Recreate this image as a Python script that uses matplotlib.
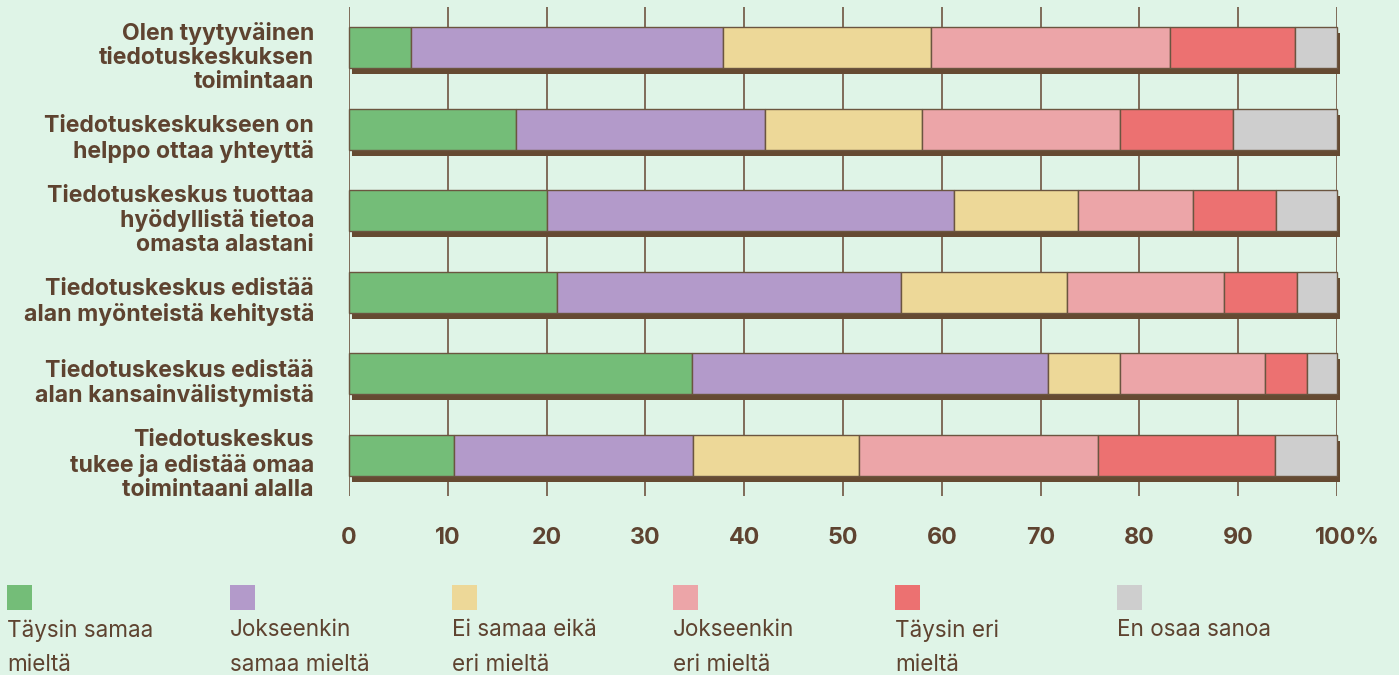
import matplotlib
matplotlib.use("Agg")
import matplotlib.pyplot as plt
import matplotlib.transforms as mtransforms
from matplotlib.patches import Rectangle
import numpy as np

# ---------------- data ----------------
statements = [
    "Olen tyytyväinen\ntiedotuskeskuksen\ntoimintaan",
    "Tiedotuskeskukseen on\nhelppo ottaa yhteyttä",
    "Tiedotuskeskus tuottaa\nhyödyllistä tietoa\nomasta alastani",
    "Tiedotuskeskus edistää\nalan myönteistä kehitystä",
    "Tiedotuskeskus edistää\nalan kansainvälistymistä",
    "Tiedotuskeskus\ntukee ja edistää omaa\ntoimintaani alalla",
]
series_names = [
    "Täysin samaa\nmieltä",
    "Jokseenkin\nsamaa mieltä",
    "Ei samaa eikä\neri mieltä",
    "Jokseenkin\neri mieltä",
    "Täysin eri\nmieltä",
    "En osaa sanoa",
]
taysin_samaa = [6.3, 16.9, 20.0, 21.1, 34.7, 10.6]
jokseenkin_samaa = [31.6, 25.2, 41.2, 34.8, 36.0, 24.2]
ei_samaa_eika_eri = [21.0, 15.9, 12.6, 16.8, 7.3, 16.8]
jokseenkin_eri = [24.2, 20.0, 11.6, 15.9, 14.7, 24.2]
taysin_eri = [12.6, 11.5, 8.4, 7.4, 4.3, 17.9]
en_osaa = [4.3, 10.5, 6.2, 4.0, 3.0, 6.3]
x_ticks = [0, 10, 20, 30, 40, 50, 60, 70, 80, 90, 100]
x_ticklabels = ["0", "10", "20", "30", "40", "50", "60", "70", "80", "90", "100%"]

series = [taysin_samaa, jokseenkin_samaa, ei_samaa_eika_eri,
          jokseenkin_eri, taysin_eri, en_osaa]
colors = ["#74bd78", "#b39aca", "#edd898", "#eca5a8", "#ec7171", "#cecece"]

BG = "#dff4e7"
BROWN = "#654a32"
TEXT = "#5e4330"
GRID = "#7f6b59"
FONT = ["Inter", "DejaVu Sans"]

plt.rcParams["font.family"] = FONT

W, H = 1399, 675
fig = plt.figure(figsize=(W / 100, H / 100), dpi=100, facecolor=BG)
ax = fig.add_axes([349 / W, 1 - 496 / H, 988 / W, 489 / H])
ax.set_facecolor(BG)
for s in ax.spines.values():
    s.set_visible(False)

n = len(statements)
y = np.arange(n)
ax.set_xlim(0, 100)
ax.set_ylim(n - 0.5, -0.5)

# grid + tick labels (last label drawn separately so "100" sits on its tick)
ax.set_xticks(x_ticks)
ax.set_xticklabels(x_ticklabels[:-1] + [""])
ax.set_yticks([])
ax.grid(axis="x", color=GRID, linewidth=1.4, zorder=0)
ax.set_axisbelow(True)
ax.tick_params(axis="x", length=0, pad=22, labelsize=16.7, labelcolor=TEXT)
for lbl in ax.get_xticklabels():
    lbl.set_fontweight("bold")

tick_tr = mtransforms.blended_transform_factory(ax.transData, ax.transAxes)
ax.annotate(x_ticklabels[-1], xy=(x_ticks[-1], 0), xycoords=tick_tr,
            xytext=(7.5, -22), textcoords="offset points", ha="center", va="top",
            fontsize=16.7, fontweight="bold", color=TEXT, annotation_clip=False)

# shadow
totals = np.sum(np.array(series), axis=0)
shadow_tr = ax.transData + mtransforms.ScaledTranslation(3 / 100, -6 / 100, fig.dpi_scale_trans)
ax.barh(y, totals, left=0, height=0.5, color=BROWN, linewidth=0,
        transform=shadow_tr, zorder=2, clip_on=False)

# stacked bars
left = np.zeros(n)
for vals, c in zip(series, colors):
    ax.barh(y, vals, left=left, height=0.5, color=c, edgecolor="#6b5540",
            linewidth=1.0, zorder=3, clip_on=False)
    left += np.array(vals)

# category labels
lab_tr = mtransforms.blended_transform_factory(ax.transAxes, ax.transData)
for i, s in enumerate(statements):
    ax.text(-35 / 988, i + 0.12, s, transform=lab_tr, ha="right", va="center",
            fontsize=16.6, fontweight="bold", color=TEXT, linespacing=1.12)

# legend
leg_x = [7, 230, 452, 673, 895, 1117]
for xp, name, c in zip(leg_x, series_names, colors):
    fig.patches.append(Rectangle((xp / W, 1 - 610 / H), 25 / W, 25 / H,
                                 transform=fig.transFigure, facecolor=c,
                                 edgecolor="none"))
    fig.text(xp / W, 1 - 619 / H, name, ha="left", va="top", fontsize=16.2,
             color=TEXT, linespacing=1.74)

fig.savefig("out.png", dpi=100, facecolor=BG)
